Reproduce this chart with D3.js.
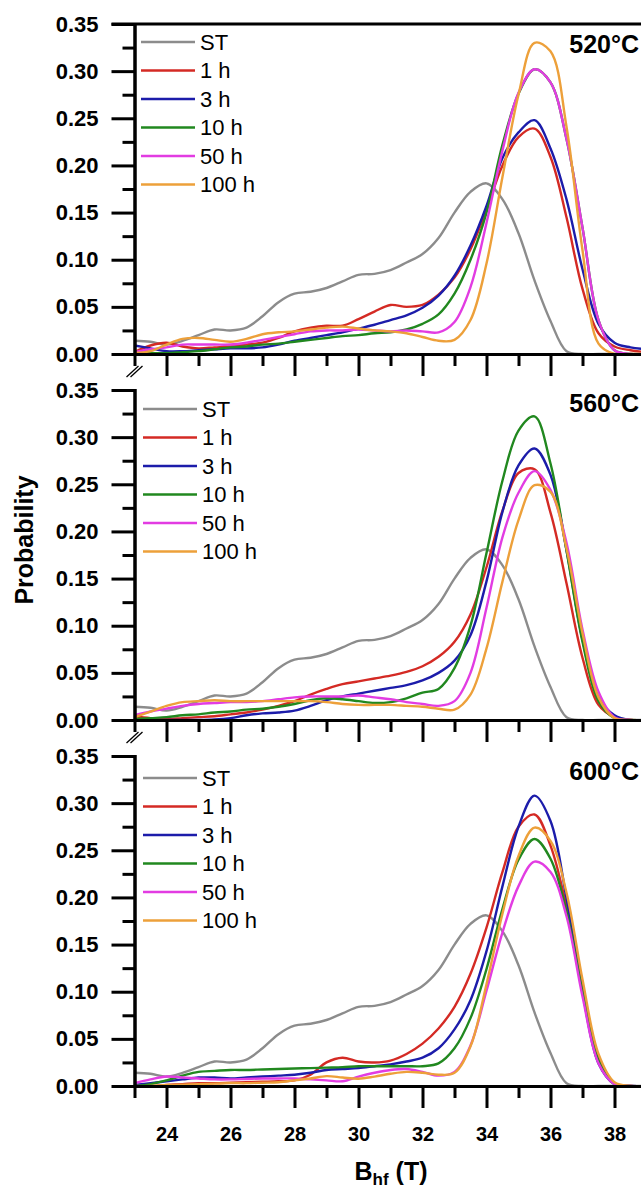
<!DOCTYPE html>
<html>
<head>
<meta charset="utf-8">
<script src="https://cdnjs.cloudflare.com/ajax/libs/d3/7.8.5/d3.min.js"></script>
<style>
    body { margin: 0; background: #fff; }
    svg { display: block; }
    text { font-family: "Liberation Sans", Arial, sans-serif; }
</style>
</head>
<body>
<div id="chart"></div>
<script>
// B_hf grid (T), every 0.5 T
const bhf = [23, 23.5, 24, 24.5, 25, 25.5, 26, 26.5, 27, 27.5, 28, 28.5, 29, 29.5, 30, 30.5,
    31, 31.5, 32, 32.5, 33, 33.5, 34, 34.5, 35, 35.5, 36, 36.5, 37, 37.5, 38, 38.5, 39];

const xMajorTicks = [24, 26, 28, 30, 32, 34, 36, 38];
const xMinorTicks = [23, 25, 27, 29, 31, 33, 35, 37, 39];
const yMajorTicks = [0, 0.05, 0.10, 0.15, 0.20, 0.25, 0.30, 0.35];
const yMinorTicks = [0.025, 0.075, 0.125, 0.175, 0.225, 0.275, 0.325];

const seriesNames = ["ST", "1 h", "3 h", "10 h", "50 h", "100 h"];
const seriesColors = ["#8c8c8c", "#d42a24", "#1c1caa", "#21881f", "#e23ce2", "#eda03a"];
const panelLabels = ["520°C", "560°C", "600°C"];

// solution treated state, same in every panel
const st = [0.014, 0.013, 0.010, 0.014, 0.020, 0.026, 0.025, 0.028, 0.040, 0.055, 0.064, 0.066, 0.070, 0.077, 0.084, 0.085,
    0.089, 0.097, 0.106, 0.123, 0.150, 0.172, 0.181, 0.164, 0.128, 0.078, 0.035, 0.003, 0, 0, 0, 0, 0];

// 520 °C
const h1_520 = [0.002, 0.009, 0.012, 0.008, 0.006, 0.007, 0.008, 0.010, 0.012, 0.017, 0.024, 0.028, 0.030, 0.030, 0.037, 0.045,
    0.052, 0.050, 0.052, 0.063, 0.081, 0.111, 0.153, 0.200, 0.230, 0.239, 0.209, 0.145, 0.069, 0.022, 0.008, 0.004, 0.002];
const h3_520 = [0.009, 0.006, 0.003, 0.003, 0.004, 0.005, 0.006, 0.006, 0.007, 0.010, 0.014, 0.017, 0.020, 0.023, 0.027, 0.031,
    0.036, 0.041, 0.049, 0.062, 0.083, 0.115, 0.157, 0.208, 0.235, 0.248, 0.218, 0.164, 0.090, 0.032, 0.012, 0.007, 0.005];
const h10_520 = [0.001, 0.001, 0.001, 0.002, 0.003, 0.005, 0.007, 0.008, 0.010, 0.011, 0.013, 0.015, 0.017, 0.019, 0.020, 0.022,
    0.023, 0.026, 0.032, 0.042, 0.064, 0.100, 0.150, 0.222, 0.276, 0.302, 0.288, 0.228, 0.134, 0.036, 0.004, 0, 0];
const h50_520 = [0.002, 0.005, 0.007, 0.010, 0.010, 0.010, 0.010, 0.012, 0.015, 0.018, 0.021, 0.024, 0.025, 0.025, 0.026, 0.025,
    0.024, 0.025, 0.024, 0.023, 0.034, 0.071, 0.139, 0.216, 0.277, 0.302, 0.288, 0.228, 0.134, 0.036, 0.004, 0, 0];
const h100_520 = [0.001, 0.003, 0.010, 0.016, 0.017, 0.015, 0.013, 0.016, 0.021, 0.023, 0.024, 0.026, 0.028, 0.029, 0.027, 0.025,
    0.024, 0.022, 0.018, 0.014, 0.015, 0.036, 0.096, 0.188, 0.275, 0.330, 0.321, 0.241, 0.110, 0.011, 0, 0, 0];

// 560 °C
const h1_560 = [0.004, 0.002, 0.001, 0.002, 0.003, 0.004, 0.006, 0.008, 0.011, 0.015, 0.020, 0.027, 0.033, 0.038, 0.041, 0.044,
    0.047, 0.051, 0.057, 0.067, 0.083, 0.112, 0.162, 0.222, 0.262, 0.266, 0.220, 0.145, 0.066, 0.016, 0.003, 0, 0];
const h3_560 = [0.001, 0, 0, 0, 0, 0.0005, 0.002, 0.005, 0.007, 0.008, 0.010, 0.015, 0.021, 0.025, 0.028, 0.031,
    0.034, 0.037, 0.042, 0.050, 0.063, 0.090, 0.147, 0.221, 0.270, 0.288, 0.260, 0.180, 0.085, 0.024, 0.005, 0, 0];
const h10_560 = [0.001, 0.002, 0.003, 0.005, 0.006, 0.008, 0.009, 0.011, 0.012, 0.014, 0.017, 0.021, 0.023, 0.022, 0.020, 0.018,
    0.019, 0.023, 0.029, 0.033, 0.055, 0.100, 0.177, 0.254, 0.307, 0.322, 0.272, 0.180, 0.083, 0.020, 0.002, 0, 0];
const h50_560 = [0.005, 0.009, 0.012, 0.015, 0.017, 0.018, 0.019, 0.019, 0.020, 0.022, 0.024, 0.025, 0.025, 0.025, 0.026, 0.024,
    0.022, 0.019, 0.017, 0.015, 0.020, 0.050, 0.119, 0.194, 0.241, 0.264, 0.244, 0.188, 0.096, 0.030, 0.003, 0, 0];
const h100_560 = [0.003, 0.009, 0.015, 0.019, 0.020, 0.021, 0.020, 0.020, 0.020, 0.020, 0.020, 0.020, 0.019, 0.017, 0.016, 0.016,
    0.016, 0.015, 0.014, 0.012, 0.011, 0.027, 0.076, 0.147, 0.212, 0.249, 0.242, 0.182, 0.092, 0.024, 0.002, 0, 0];

// 600 °C
const h1_600 = [0, 0, 0.001, 0.002, 0.003, 0.003, 0.0035, 0.004, 0.0045, 0.005, 0.006, 0.012, 0.025, 0.030, 0.026, 0.025,
    0.027, 0.034, 0.045, 0.061, 0.084, 0.119, 0.168, 0.227, 0.275, 0.288, 0.255, 0.190, 0.106, 0.031, 0.003, 0, 0];
const h3_600 = [0.001, 0.003, 0.005, 0.007, 0.009, 0.009, 0.008, 0.009, 0.010, 0.011, 0.012, 0.014, 0.017, 0.018, 0.019, 0.021,
    0.023, 0.026, 0.030, 0.040, 0.060, 0.091, 0.143, 0.212, 0.275, 0.308, 0.281, 0.199, 0.100, 0.024, 0.002, 0, 0];
const h10_600 = [0, 0.002, 0.006, 0.011, 0.015, 0.016, 0.017, 0.017, 0.0175, 0.018, 0.0185, 0.019, 0.0195, 0.020, 0.021, 0.021,
    0.021, 0.021, 0.021, 0.024, 0.040, 0.072, 0.124, 0.188, 0.240, 0.262, 0.241, 0.185, 0.100, 0.027, 0.002, 0, 0];
const h50_600 = [0.003, 0.007, 0.010, 0.009, 0.008, 0.007, 0.007, 0.0075, 0.008, 0.008, 0.008, 0.007, 0.006, 0.005, 0.010, 0.014,
    0.017, 0.018, 0.015, 0.011, 0.015, 0.043, 0.101, 0.163, 0.212, 0.238, 0.227, 0.180, 0.095, 0.024, 0.002, 0, 0];
const h100_600 = [0, 0, 0.001, 0.0015, 0.002, 0.0025, 0.003, 0.003, 0.0035, 0.004, 0.006, 0.008, 0.0105, 0.009, 0.0077, 0.010,
    0.013, 0.015, 0.014, 0.012, 0.014, 0.042, 0.108, 0.183, 0.244, 0.274, 0.260, 0.205, 0.113, 0.034, 0.004, 0, 0];

const panelSeries = [
    [st, h1_520, h3_520, h10_520, h50_520, h100_520],
    [st, h1_560, h3_560, h10_560, h50_560, h100_560],
    [st, h1_600, h3_600, h10_600, h50_600, h100_600]
];

const W = 641, H = 1191;
const panelTops = [24, 390, 756];
const panelH = 330;
const labelOffsets = [29, 22, 24];
const legendOffsets = [18, 19, 22];
const legendX = [141, 143, 143];

const svg = d3.select("#chart")
    .append("svg")
    .attr("width", W)
    .attr("height", H);

const x = d3.scaleLinear().domain([23, 39]).range([134.5, 646.5]);

function styleAxis(g) {
    g.selectAll("path, line").attr("stroke", "#000").attr("stroke-width", 3);
    g.select(".domain").attr("stroke-linecap", "square");
}

panelSeries.forEach((series, i) => {
    const top = panelTops[i];
    const y = d3.scaleLinear().domain([0, 0.35]).range([top + panelH, top]);
    const last = i === panelSeries.length - 1;

    svg.append("clipPath")
        .attr("id", `clip${i}`)
        .append("rect")
        .attr("x", x(23))
        .attr("y", top - 10)
        .attr("width", W - x(23))
        .attr("height", panelH + 10);

    const line = d3.line()
        .x((d, j) => x(bhf[j]))
        .y(d => y(d))
        .curve(d3.curveCatmullRom.alpha(0.5));

    svg.append("g")
        .attr("clip-path", `url(#clip${i})`)
        .selectAll("path")
        .data(series)
        .join("path")
        .attr("d", line)
        .attr("fill", "none")
        .attr("stroke", (d, k) => seriesColors[k])
        .attr("stroke-width", 2.4);

    // x axis: minor + major ticks
    svg.append("g")
        .attr("transform", `translate(0,${y(0)})`)
        .call(d3.axisBottom(x).tickValues(xMinorTicks).tickSize(12).tickSizeOuter(0).tickFormat(""))
        .call(styleAxis);

    const xMajor = svg.append("g")
        .attr("transform", `translate(0,${y(0)})`)
        .call(d3.axisBottom(x).tickValues(xMajorTicks).tickSize(22).tickSizeOuter(0)
            .tickPadding(19).tickFormat(last ? d3.format("d") : ""))
        .call(styleAxis);
    xMajor.selectAll("text")
        .attr("fill", "#000")
        .attr("font-size", "20px")
        .attr("font-weight", "bold");

    // y axis
    svg.append("g")
        .attr("transform", `translate(${x(23)},0)`)
        .call(d3.axisLeft(y).tickValues(yMinorTicks).tickSize(12).tickSizeOuter(0).tickFormat(""))
        .call(styleAxis);

    const yMajor = svg.append("g")
        .attr("transform", `translate(${x(23)},0)`)
        .call(d3.axisLeft(y).tickValues(yMajorTicks).tickSize(23).tickSizeOuter(0)
            .tickPadding(13).tickFormat(d3.format(".2f")))
        .call(styleAxis);
    yMajor.selectAll("text")
        .attr("fill", "#000")
        .attr("font-size", "22px")
        .attr("font-weight", "bold");

    if (i === 0) {
        svg.append("line")
            .attr("x1", x(23) - 23).attr("x2", W)
            .attr("y1", top).attr("y2", top)
            .attr("stroke", "#000")
            .attr("stroke-width", 3);
    }

    // axis break marks
    if (!last) {
        const by = y(0) + 18;
        [0, 4].forEach(off => {
            svg.append("line")
                .attr("x1", x(23) - 8 + off).attr("y1", by + 5)
                .attr("x2", x(23) + 4 + off).attr("y2", by - 6)
                .attr("stroke", "#000")
                .attr("stroke-width", 1.3);
        });
    }

    svg.append("text")
        .attr("x", 639)
        .attr("y", top + labelOffsets[i])
        .attr("text-anchor", "end")
        .attr("font-size", "25px")
        .attr("font-weight", "bold")
        .text(panelLabels[i]);

    // legend
    const legend = svg.append("g")
        .selectAll("g")
        .data(seriesNames)
        .join("g")
        .attr("transform", (d, k) => `translate(${legendX[i]},${top + legendOffsets[i] + k * 28.5})`);
    legend.append("line")
        .attr("x1", 0).attr("x2", 54)
        .attr("stroke", (d, k) => seriesColors[k])
        .attr("stroke-width", 2.4);
    legend.append("text")
        .attr("x", 59)
        .attr("dy", "0.36em")
        .attr("font-size", "22px")
        .text(d => d);
});

svg.append("text")
    .attr("transform", "translate(33,540) rotate(-90)")
    .attr("text-anchor", "middle")
    .attr("font-size", "25px")
    .attr("font-weight", "bold")
    .text("Probability");

const xTitle = svg.append("text")
    .attr("x", 391)
    .attr("y", 1180)
    .attr("text-anchor", "middle")
    .attr("font-size", "25px")
    .attr("font-weight", "bold");
xTitle.append("tspan").text("B");
xTitle.append("tspan").attr("font-size", "17px").attr("dy", 5).text("hf");
xTitle.append("tspan").attr("dy", -5).text(" (T)");
</script>
</body>
</html>
